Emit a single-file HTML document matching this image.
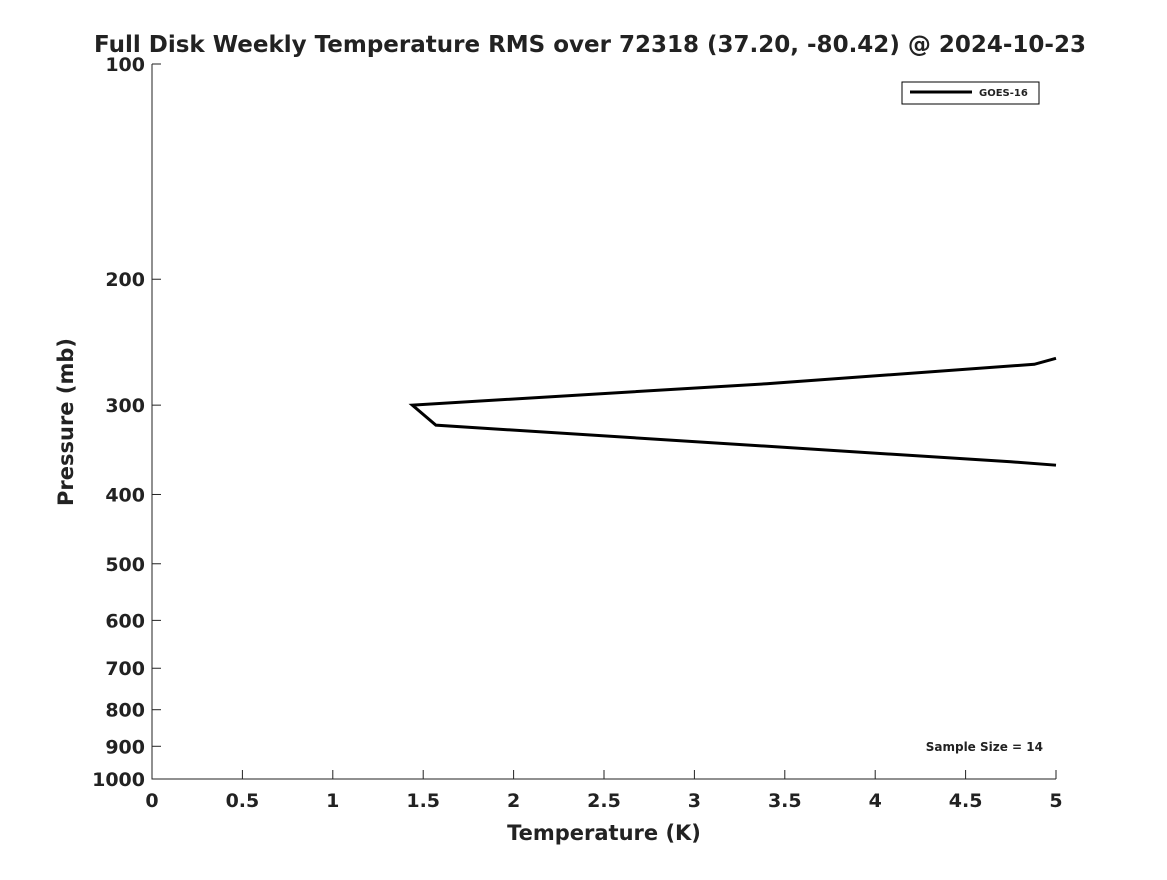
<!DOCTYPE html>
<html><head><meta charset="utf-8"><style>
body{margin:0;background:#fff;font-family:"Liberation Sans","DejaVu Sans",sans-serif;}
svg text{font-family:"DejaVu Sans","Liberation Sans",sans-serif;font-weight:bold;fill:#222;}
</style></head><body>
<svg id="chart" width="1167" height="875">
<text x="590" y="52" font-size="23" text-anchor="middle">Full Disk Weekly Temperature RMS over 72318 (37.20, -80.42) @ 2024-10-23</text>
<g id="axes"></g>
<g id="series"></g>
<g>
<rect x="902" y="82" width="137" height="22" fill="#fff" stroke="#000" stroke-width="1"/>
<line x1="910" y1="92" x2="972" y2="92" stroke="#000" stroke-width="3"/>
<text x="979" y="96" font-size="10">GOES-16</text>
</g>
<text x="1043" y="751" font-size="12" text-anchor="end">Sample Size = 14</text>
<text x="604" y="840" font-size="21" text-anchor="middle">Temperature (K)</text>
<text transform="translate(73,422) rotate(-90)" font-size="21" text-anchor="middle">Pressure (mb)</text>
</svg>
<script>
const xTicks=[0,0.5,1,1.5,2,2.5,3,3.5,4,4.5,5];
const yTicks=[100,200,300,400,500,600,700,800,900,1000];
const rmsValues=[5.0,4.88,3.4,1.44,1.57,4.75,5.0];
const pressures=[258,263,280,300,320,360,364];
const X0=152,X1=1056,Y0=64,Y1=779;
const xs=v=>X0+(v/5)*(X1-X0);
const ys=p=>Y0+(Math.log10(p)-2)*(Y1-Y0);
const NS="http://www.w3.org/2000/svg";
const axes=document.getElementById('axes');
function mk(t,a,parent){const e=document.createElementNS(NS,t);for(const k in a)e.setAttribute(k,a[k]);parent.appendChild(e);return e;}
const ax=mk('path',{d:`M${X0},${Y0}V${Y1}H${X1}`,fill:'none',stroke:'#222','stroke-width':1},axes);


xTicks.forEach(v=>{const x=xs(v);
 mk('line',{x1:x,y1:Y1,x2:x,y2:Y1-9,stroke:'#222'},axes);
 const t=mk('text',{x:x,y:Y1+28,'font-size':19,'text-anchor':'middle'},axes);t.textContent=v;
 
 });
yTicks.forEach(p=>{const y=ys(p);
 mk('line',{x1:X0,y1:y,x2:X0+9,y2:y,stroke:'#222'},axes);
 const t=mk('text',{x:X0-7,y:y+7,'font-size':19,'text-anchor':'end'},axes);t.textContent=p;
 
 });
const d=rmsValues.map((v,i)=>(i?'L':'M')+xs(v)+','+ys(pressures[i])).join('');
const ln=mk('path',{d:d,fill:'none',stroke:'#000','stroke-width':3,'stroke-linejoin':'miter'},document.getElementById('series'));


</script>
</body></html>
